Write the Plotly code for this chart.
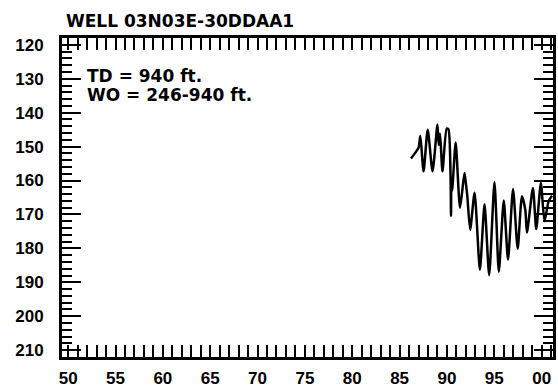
import plotly.graph_objects as go

# Water level (depth below land surface, ft) vs. year
years = [1986.20, 1987.00, 1987.19, 1987.53, 1987.97, 1988.48, 1989.00, 1989.13, 1989.27,
         1989.53, 1989.97, 1990.16, 1990.38, 1990.43, 1990.47, 1990.55, 1990.92, 1991.38,
         1991.85, 1991.97, 1992.15, 1992.45, 1992.92, 1993.48, 1993.97, 1994.46, 1995.02,
         1995.48, 1996.00, 1996.45, 1996.98, 1997.47, 1997.92, 1998.27, 1998.45, 1999.08,
         1999.43, 1999.92, 2000.30, 2000.75, 2001.10]
depth = [153.5, 150.3, 146.9, 157.3, 145.0, 157.3, 143.5, 149.5, 146.2,
         157.3, 144.7, 144.9, 158.5, 170.4, 159.5, 163.0, 148.8, 168.0,
         157.8, 160.2, 164.5, 174.5, 163.6, 186.3, 167.0, 187.9, 160.4,
         186.9, 165.9, 183.3, 162.5, 180.1, 164.6, 168.5, 175.3, 162.2,
         174.3, 160.7, 172.0, 166.0, 164.5]

x_tickvals = [1950, 1955, 1960, 1965, 1970, 1975, 1980, 1985, 1990, 1995, 2000]
x_ticktext = ["50", "55", "60", "65", "70", "75", "80", "85", "90", "95", "00"]
y_tickvals = [120, 130, 140, 150, 160, 170, 180, 190, 200, 210]

title_text = "WELL 03N03E-30DDAA1"
note_lines = ["TD = 940 ft.", "WO = 246-940 ft."]

FONT = "Liberation Sans, Arial, sans-serif"
TFONT = "DejaVu Sans, sans-serif"

fig = go.Figure()
fig.add_trace(go.Scatter(x=years, y=depth, mode="lines",
                         line=dict(color="black", width=2.5, shape="spline", smoothing=0.6),
                         showlegend=False, hoverinfo="skip"))

fig.update_layout(
    width=558, height=390,
    margin=dict(l=62, r=2, t=38, b=28, pad=0),
    paper_bgcolor="white", plot_bgcolor="white",
    font=dict(family=FONT, size=17, color="black"),
    showlegend=False,
)

fig.update_xaxes(
    range=[1949.35, 2001.2],
    tickvals=x_tickvals, ticktext=x_ticktext,
    ticks="inside", ticklen=12, tickwidth=2, tickcolor="black",
    minor=dict(dtick=1, tick0=1950, ticks="inside", ticklen=12, tickwidth=2, tickcolor="black"),
    showline=True, linecolor="black", linewidth=3, mirror="ticks",
    showgrid=False, zeroline=False,
    tickfont=dict(family=FONT, size=17, color="black", weight="bold"),
    ticklabelstandoff=4,
)
fig.update_yaxes(
    range=[212, 118],
    tickvals=y_tickvals,
    ticks="inside", ticklen=19, tickwidth=2, tickcolor="black",
    minor=dict(dtick=2, tick0=120, ticks="inside", ticklen=10, tickwidth=2, tickcolor="black"),
    showline=True, linecolor="black", linewidth=3, mirror="ticks",
    showgrid=False, zeroline=False,
    tickfont=dict(family=FONT, size=17, color="black", weight="bold"),
    ticklabelstandoff=12,
)

fig.add_annotation(text="<b>" + title_text + "</b>", xref="paper", yref="paper",
                   x=0.004, y=1.052, xanchor="left", yanchor="middle", showarrow=False,
                   font=dict(family=TFONT, size=17, color="black"))
fig.add_annotation(text="<b>" + note_lines[0] + "</b>", xref="paper", yref="paper",
                   x=0.047, y=0.882, xanchor="left", yanchor="middle", showarrow=False,
                   font=dict(family=TFONT, size=17, color="black"))
fig.add_annotation(text="<b>" + note_lines[1] + "</b>", xref="paper", yref="paper",
                   x=0.047, y=0.82, xanchor="left", yanchor="middle", showarrow=False,
                   font=dict(family=TFONT, size=17, color="black"))

fig.write_html("out.html",
               config={"displayModeBar": False, "staticPlot": True},
               post_script="document.body.style.margin='0';document.body.style.overflow='hidden';")
